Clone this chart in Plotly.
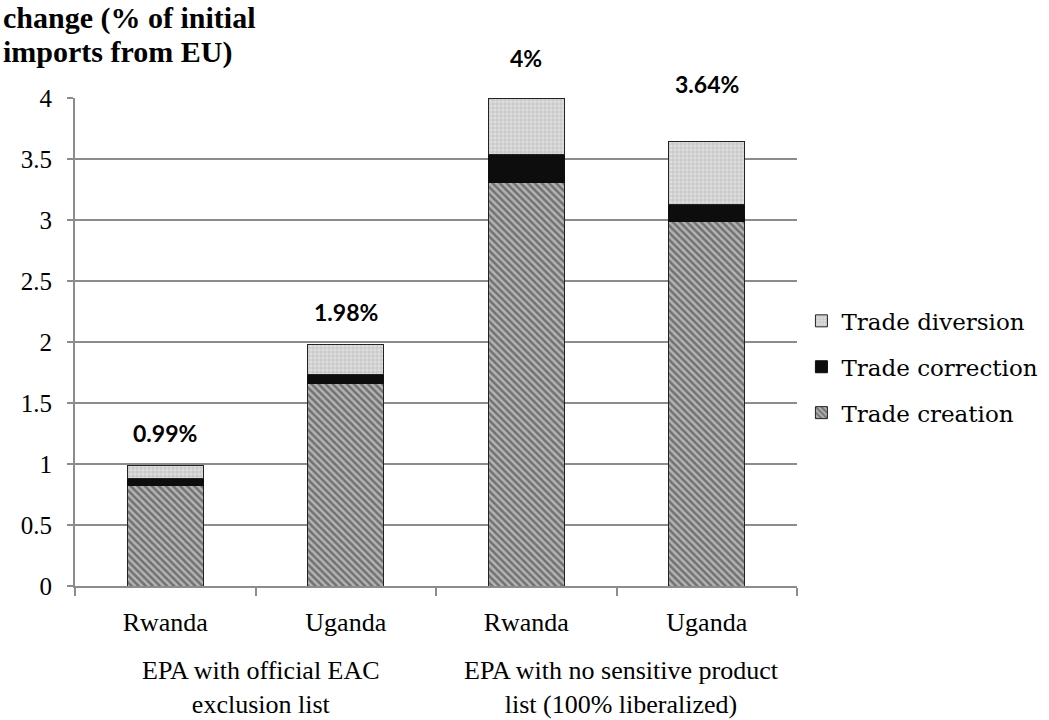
import plotly.graph_objects as go

# ---- data ----
countries = ["Rwanda", "Uganda", "Rwanda", "Uganda"]
scenarios = ["EPA with official EAC<br>exclusion list",
             "EPA with no sensitive product<br>list (100% liberalized)"]
scenario_of_bar = [0, 0, 1, 1]
trade_creation = [0.82, 1.66, 3.31, 2.99]
trade_correction = [0.06, 0.07, 0.23, 0.14]
trade_diversion = [0.11, 0.25, 0.46, 0.51]
totals = [0.99, 1.98, 4.0, 3.64]
total_labels = ["0.99%", "1.98%", "4%", "3.64%"]
y_tick_vals = [0, 0.5, 1, 1.5, 2, 2.5, 3, 3.5, 4]
y_tick_text = ["0", "0.5", "1", "1.5", "2", "2.5", "3", "3.5", "4"]
title_lines = ["change (% of initial", "imports from EU)"]

# ---- styling ----
GRID = "#8c8c8c"
SERIF = "Liberation Serif"
label_shift = [32, 32, 40, 58]
title_line_y = [1.164, 1.094]

x_ids = [f"{s}-{c}" for s, c in zip(scenario_of_bar, countries)]

fig = go.Figure()
fig.add_trace(go.Bar(
    x=x_ids, y=trade_creation, name="Trade creation", legendrank=3,
    legendgroup="creation", width=0.42,
    marker=dict(color="#8a8a8a", line=dict(color="#222222", width=1),
                pattern=dict(shape="\\", fgcolor="#2e2e2e", bgcolor="#b4b4b4",
                             size=5, solidity=0.5)),
))
fig.add_trace(go.Bar(
    x=x_ids, y=trade_correction, name="Trade correction", legendrank=2,
    legendgroup="correction", width=0.42,
    marker=dict(color="#0d0d0d", line=dict(color="#0d0d0d", width=1)),
))
fig.add_trace(go.Bar(
    x=x_ids, y=trade_diversion, name="Trade diversion", legendrank=1,
    legendgroup="diversion", width=0.42,
    marker=dict(color="#d0d0d0", line=dict(color="#222222", width=1),
                pattern=dict(shape="+", fgcolor="#999999", bgcolor="#dedede",
                             size=4, solidity=0.3)),
))

annotations = []
for xi, t, lab, sh in zip(x_ids, totals, total_labels, label_shift):
    annotations.append(dict(
        x=xi, y=t, xref="x", yref="y", text=f"<b>{lab}</b>", showarrow=False,
        yshift=sh, yanchor="middle",
        font=dict(family="Lato", size=23, color="#000000")))

for gi, g in enumerate(scenarios):
    annotations.append(dict(
        x=2 * gi + 0.5, y=-0.207, xref="x", yref="paper", text=g,
        showarrow=False, yanchor="middle", xanchor="center",
        xshift=5,
        font=dict(family=SERIF, size=26, color="#000000")))

for line, ly in zip(title_lines, title_line_y):
    annotations.append(dict(
        x=-0.102, y=ly, xref="paper", yref="paper", text=f"<b>{line}</b>",
        showarrow=False, xanchor="left", yanchor="middle",
        font=dict(family=SERIF, size=30, color="#000000")))

fig.update_layout(
    width=1049, height=720,
    barmode="stack",
    paper_bgcolor="white", plot_bgcolor="white",
    margin=dict(l=75, r=252, t=98, b=134, autoexpand=False),
    legend=dict(x=0.764, xref="container", xanchor="left",
                y=0.449, yanchor="middle",
                traceorder="grouped", tracegroupgap=13,
                font=dict(family="DejaVu Serif", size=23, color="#000000"),
                bgcolor="rgba(0,0,0,0)"),
    annotations=annotations,
    xaxis=dict(type="category", tickmode="array", tickvals=x_ids,
               ticktext=countries, tickson="boundaries",
               ticks="outside", ticklen=8, tickwidth=2, tickcolor=GRID,
               showline=True, linecolor=GRID, linewidth=2, showgrid=False,
               ticklabelstandoff=12,
               tickfont=dict(family=SERIF, size=26, color="#000000")),
    yaxis=dict(range=[0, 4], tickmode="array", tickvals=y_tick_vals,
               ticktext=y_tick_text, showgrid=True, gridcolor=GRID,
               gridwidth=2, zeroline=False, showline=True, linecolor=GRID,
               linewidth=2, ticks="outside", ticklen=6, tickwidth=2,
               tickcolor=GRID, ticklabelstandoff=10,
               tickfont=dict(family=SERIF, size=25, color="#000000")),
)

fig.write_html("out.html")
